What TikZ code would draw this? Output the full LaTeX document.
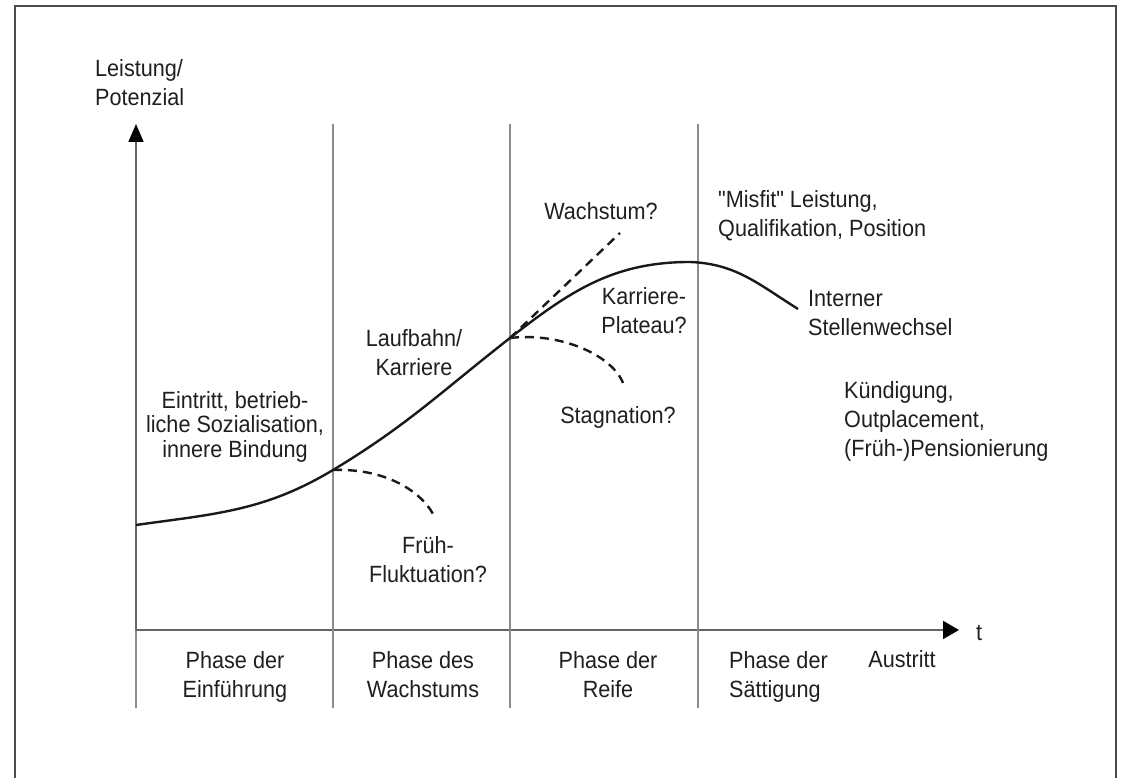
\documentclass[tikz,border=0pt]{standalone}
\usepackage{fontspec}
\setmainfont{Liberation Sans}[FakeStretch=0.92, Ligatures=TeXOff]
\usetikzlibrary{arrows.meta}

\begin{document}
\begin{tikzpicture}[x = 100pt, y = 100pt,
    lbl/.style = {font = \fontsize{23.5}{29}\selectfont, inner sep = 0pt, text = black!88},
    gl/.style = {draw = black!45, line width = 1.6pt},
    ax/.style = {draw = black!60, line width = 1.8pt},
    curve/.style = {draw = black!90, line width = 2.4pt},
    br/.style = {draw = black!90, line width = 2.4pt, dash pattern = on 9pt off 6pt}]
      \useasboundingbox (0, 0) rectangle (11.24, 7.78);
      \draw [draw = black!70, line width = 2pt] (0.15, 0) -- (0.15, 7.72) -- (11.16, 7.72) -- (11.16, 0);

      % axes
      \coordinate (o) at (1.36, 1.48);
      \coordinate (ybot) at (1.36, 0.70);
      \coordinate (ytop) at (1.36, 6.54);
      \coordinate (xend) at (9.59, 1.48);
      \draw [gl] (ybot) -- (o);
      \draw [ax, -{Triangle[length = 18pt, width = 15pt, color = black]}] (o) -- (ytop);
      \draw [ax, -{Triangle[length = 16pt, width = 18pt, color = black]}] (o) -- (xend);

      % phase borders
      \foreach \x/\n in {3.33/p1, 5.10/p2, 6.98/p3} {
        \coordinate (\n) at (\x, 6.54);
        \draw [gl] (\x, 0.70) -- (\n);
      }

      % performance curve
      \coordinate (c0) at (1.36, 2.53);
      \coordinate (f1) at (3.33, 3.08);
      \coordinate (s1) at (5.10, 4.40);
      \coordinate (pk) at (6.90, 5.16);
      \coordinate (c9) at (7.98, 4.69);
      \draw [curve] (c0) to [out = 8, in = 211] (f1) to [out = 31, in = 218] (s1)
        to [out = 38, in = 180] (pk) to [out = -2, in = 148] (c9);

      \coordinate (fx) at (4.35, 2.60);
      \coordinate (sx) at (6.23, 3.95);
      \coordinate (wx) at (6.20, 5.45);
      \draw [br] (f1) .. controls (3.90, 3.10) and (4.25, 2.83) .. (fx);
      \draw [br] (s1) .. controls (5.60, 4.46) and (6.12, 4.23) .. (sx);
      \draw [br] (s1) -- (wx);

      % labels
      \node [lbl, anchor = west, align = left] (yl) at (0.95, 6.95) {Leistung/\\Potenzial};
      \node [lbl, anchor = west] (tl) at (9.76, 1.45) {t};
      \node [lbl, align = center, font = \fontsize{23.5}{24.5}\selectfont] (ein) at (2.35, 3.515) {Eintritt, betrieb-\\liche Sozialisation,\\innere Bindung};
      \node [lbl, align = center] (lauf) at (4.14, 4.25) {Laufbahn/\\Karriere};
      \node [lbl, align = center] (fl) at (4.28, 2.185) {Früh-\\Fluktuation?};
      \node [lbl] (wa) at (6.01, 5.665) {Wachstum?};
      \node [lbl, align = center] (pl) at (6.44, 4.675) {Karriere-\\Plateau?};
      \node [lbl] (st) at (6.18, 3.61) {Stagnation?};
      \node [lbl, anchor = west, align = left] (mf) at (7.18, 5.625) {"Misfit" Leistung,\\Qualifikation, Position};
      \node [lbl, anchor = west, align = left] (iw) at (8.08, 4.65) {Interner\\Stellenwechsel};
      \node [lbl, anchor = west, align = left] (kd) at (8.44, 3.57) {Kündigung,\\Outplacement,\\(Früh-)Pensionierung};

      \node [lbl, align = center] (ph1) at (2.35, 1.01) {Phase der\\Einführung};
      \node [lbl, align = center] (ph2) at (4.23, 1.035) {Phase des\\Wachstums};
      \node [lbl, align = center] (ph3) at (6.08, 1.035) {Phase der\\Reife};
      \node [lbl, anchor = west, align = left] (ph4) at (7.29, 1.01) {Phase der\\Sättigung};
      \node [lbl] (aus) at (9.02, 1.185) {Austritt};
    \end{tikzpicture}
\end{document}
